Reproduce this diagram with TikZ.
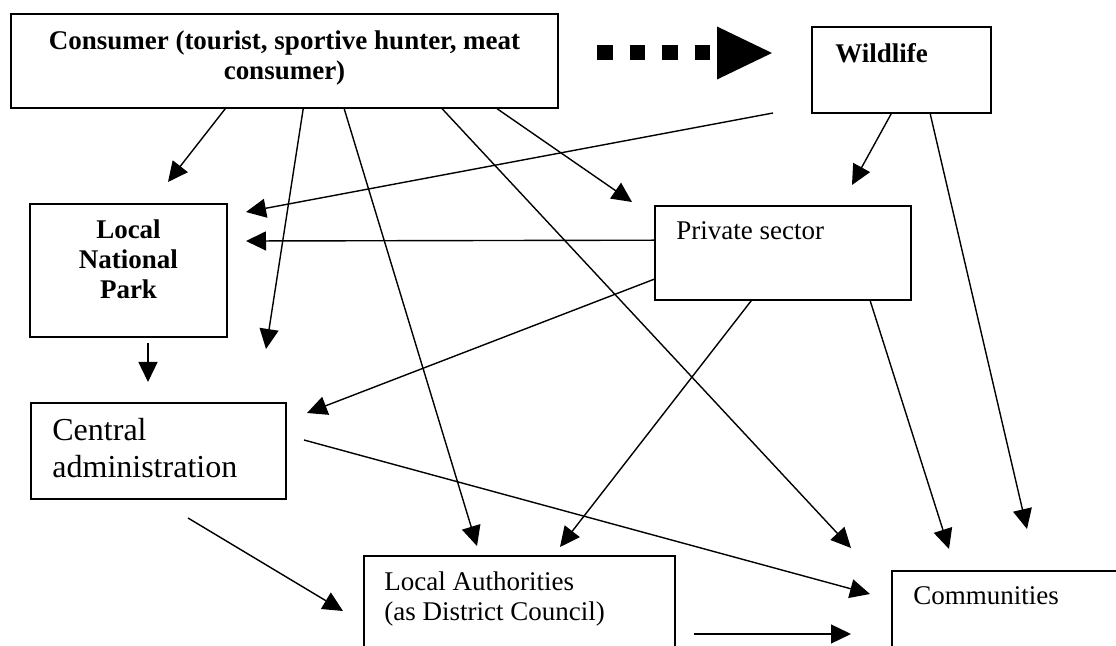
\documentclass[tikz,border=0pt]{standalone}
\usepackage{fontspec}
\setmainfont{Liberation Serif}
\usetikzlibrary{arrows.meta,fit,calc}
\begin{document}
\begin{tikzpicture}[x=0.5pt,y=-0.5pt,
  box/.style={draw, line width=0.8pt, inner sep=0pt},
  arr/.style={line width=0.7pt, -{Triangle[length=10pt,width=9.5pt]}},
  txt/.style={inner sep=0pt, font=\fontsize{13.5pt}{15pt}\selectfont},
  btxt/.style={txt, font=\fontsize{13.5pt}{15pt}\selectfont\bfseries},
  bigtxt/.style={inner sep=0pt, font=\fontsize{16pt}{18.5pt}\selectfont},
  bigdash/.style={line width=7.5pt, dash pattern=on 7.75pt off 8.5pt,
    -{Triangle[length=27.5pt,width=26.5pt,line width=0pt]}}]
\useasboundingbox (0,0) rectangle (1116,646);
\fill[white] (0,0) rectangle (1116,646);
\clip (0,0) rectangle (1116,646);

% boxes
\node[box, fit={(11,14) (558,108)}] (cons) {};
\node[box, fit={(812,27) (991,113)}] (wild) {};
\node[box, fit={(30,204) (227,337)}] (lnp) {};
\node[box, fit={(655,206) (911,300)}] (ps) {};
\node[box, fit={(31,403) (286,499)}] (ca) {};
\node[box, fit={(364,556) (675,700)}] (la) {};
\node[box, fit={(892,571) (1140,700)}] (com) {};

% texts (base anchor = baseline of the last line)
\node[btxt, anchor=base, align=center] (consT) at (284.5,80)
  {Consumer (tourist, sportive hunter, meat\\consumer)};
\node[btxt, anchor=base west] (wildT) at (835,63) {Wildlife};
\node[btxt, anchor=base, align=center] (lnpT) at (128.5,299)
  {Local\\National\\Park};
\node[txt, anchor=base west] (psT) at (676,240) {Private sector};
\node[bigtxt, anchor=base west, align=left] (caT) at (52,478)
  {Central\\administration};
\node[txt, anchor=base west, align=left] (laT) at (384,621)
  {Local Authorities\\(as District Council)};
\node[txt, anchor=base west] (comT) at (913,605) {Communities};

% free ends
\coordinate (ds) at (597,53);
\coordinate (de) at (772,53);
\coordinate (t1) at (168,182);
\coordinate (t2) at (266,349);
\coordinate (t3) at (477,546);
\coordinate (t4) at (851,548);
\coordinate (t5) at (632,202);
\coordinate (s6) at (773,113);
\coordinate (t6) at (246,212);
\coordinate (t7) at (852,185);
\coordinate (t8) at (1027,529);
\coordinate (t9) at (246,241);
\coordinate (t10) at (307,413);
\coordinate (t11) at (560,547);
\coordinate (t12) at (949,549);
\coordinate (s13) at (148,343);
\coordinate (t13) at (148,382);
\coordinate (s14) at (304,440);
\coordinate (t14) at (870,594);
\coordinate (s15) at (188,518);
\coordinate (t15) at (343,611);
\coordinate (s16) at (694,634);
\coordinate (t16) at (851,634);

% big dashed arrow
\draw[bigdash] (ds) -- (de);

% connectors
\draw[arr] ($(cons.south west)+(215,0)$) -- (t1);
\draw[arr] ($(cons.south west)+(293,0)$) -- (t2);
\draw[arr] ($(cons.south west)+(334,0)$) -- (t3);
\draw[arr] ($(cons.south west)+(432,0)$) -- (t4);
\draw[arr] ($(cons.south west)+(487,0)$) -- (t5);
\draw[arr] (s6) -- (t6);
\draw[arr] ($(wild.south west)+(80,0)$) -- (t7);
\draw[arr] ($(wild.south west)+(119,0)$) -- (t8);
\draw[arr] ($(ps.north west)+(0,35)$) -- (t9);
\draw[arr] ($(ps.north west)+(0,74)$) -- (t10);
\draw[arr] ($(ps.south west)+(97,0)$) -- (t11);
\draw[arr] ($(ps.south west)+(216,0)$) -- (t12);
\draw[arr] (s13) -- (t13);
\draw[arr] (s14) -- (t14);
\draw[arr] (s15) -- (t15);
\draw[arr] (s16) -- (t16);
\end{tikzpicture}
\end{document}
